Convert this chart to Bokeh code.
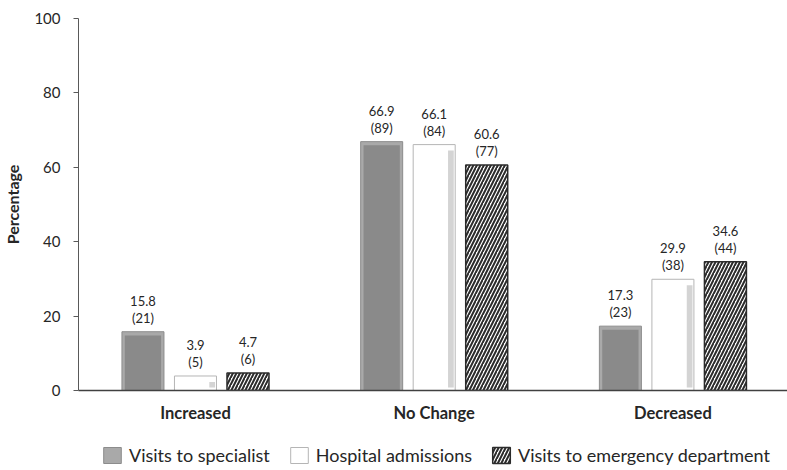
from bokeh.plotting import figure
from bokeh.layouts import column
from bokeh.models import (ColumnDataSource, FixedTicker, Legend, LegendItem)
from bokeh.core.properties import value
from bokeh.embed import file_html
from bokeh.resources import INLINE

# Change in healthcare use, by category
categories = ["Increased", "No Change", "Decreased"]
series_names = ["Visits to specialist", "Hospital admissions", "Visits to emergency department"]
specialist_pct = [15.8, 66.9, 17.3]
specialist_n = [21, 89, 23]
admissions_pct = [3.9, 66.1, 29.9]
admissions_n = [5, 84, 38]
emergency_pct = [4.7, 60.6, 34.6]
emergency_n = [6, 77, 44]
y_ticks = [0, 20, 40, 60, 80, 100]

FONT = "Lato"
TEXT = "#262626"
BAR_W = 0.176
OFFSET = 0.22

# series styles, shared by the bars and the legend swatches
SPEC_STYLE = dict(fill_color="#a9a9a9", line_color="#8c8c8c", line_width=1)
ADM_STYLE = dict(fill_color="white", line_color="#b5b5b5", line_width=1)
ER_STYLE = dict(fill_color="white", line_color="#2b2b2b", line_width=1.5,
                hatch_pattern="/", hatch_color="#2b2b2b", hatch_scale=7, hatch_weight=2)

centers = [i + 0.5 for i in range(len(categories))]

p = figure(width=787, height=440, x_range=(0.01, 2.98), y_range=(0, 100),
           output_backend="svg", toolbar_location=None,
           min_border_left=77, min_border_right=0, min_border_top=18,
           min_border_bottom=50)
p.outline_line_color = None
p.grid.grid_line_color = None
p.background_fill_color = "white"
p.border_fill_color = "white"


def bar_source(offset, pct, n):
    xs = [c + offset for c in centers]
    return ColumnDataSource(dict(
        x=xs, left=[x - BAR_W / 2 for x in xs], right=[x + BAR_W / 2 for x in xs],
        top=pct, bottom=[0] * len(pct),
        lab=[f"{v:.1f}" for v in pct], cnt=[f"({k})" for k in n],
        # inset face for the bevelled look
        il=[x - BAR_W / 2 + 0.012 for x in xs], ir=[x + BAR_W / 2 - 0.012 for x in xs],
        it=[v - 1.0 for v in pct],
        sl=[x + BAR_W / 2 - 0.03 for x in xs], sr=[x + BAR_W / 2 - 0.006 for x in xs],
        st=[v - 1.6 for v in pct], sb=[0.8] * len(pct),
    ))


src_spec = bar_source(-OFFSET, specialist_pct, specialist_n)
src_adm = bar_source(0.0, admissions_pct, admissions_n)
src_er = bar_source(OFFSET, emergency_pct, emergency_n)

# Visits to specialist: grey bevelled bars
p.quad(left="left", right="right", top="top", bottom="bottom", source=src_spec, **SPEC_STYLE)
p.quad(left="il", right="ir", top="it", bottom="bottom", source=src_spec,
       fill_color="#8a8a8a", line_color=None)

# Hospital admissions: white bevelled bars
p.quad(left="left", right="right", top="top", bottom="bottom", source=src_adm, **ADM_STYLE)
p.quad(left="sl", right="sr", top="st", bottom="sb", source=src_adm,
       fill_color="#d4d4d4", line_color=None)

# Visits to emergency department: hatched bars
p.quad(left="left", right="right", top="top", bottom="bottom", source=src_er, **ER_STYLE)

# value and count labels above each bar
for src in (src_spec, src_adm, src_er):
    p.text(x="x", y="top", text="cnt", source=src, text_align="center",
           text_baseline="bottom", y_offset=-6, text_font=value(FONT),
           text_font_size="13px", text_color=TEXT)
    p.text(x="x", y="top", text="lab", source=src, text_align="center",
           text_baseline="bottom", y_offset=-26, text_font=value(FONT),
           text_font_size="13px", text_color=TEXT)

# axes
p.yaxis.ticker = FixedTicker(ticks=y_ticks)
p.yaxis.axis_label = "Percentage"
p.yaxis.axis_label_text_font = FONT
p.yaxis.axis_label_text_font_style = "bold"
p.yaxis.axis_label_text_font_size = "16px"
p.yaxis.axis_label_text_color = TEXT
p.yaxis.axis_label_standoff = 9
p.yaxis.major_label_text_font = FONT
p.yaxis.major_label_text_font_size = "15px"
p.yaxis.major_label_text_color = TEXT
p.yaxis.major_label_standoff = 13
p.yaxis.axis_line_color = "#595959"
p.yaxis.major_tick_line_color = "#595959"
p.yaxis.major_tick_out = 5
p.yaxis.major_tick_in = 0
p.yaxis.minor_tick_line_color = None

p.xaxis.ticker = FixedTicker(ticks=centers)
p.xaxis.major_label_overrides = {c: name for c, name in zip(centers, categories)}
p.xaxis.major_label_text_font = FONT
p.xaxis.major_label_text_font_style = "bold"
p.xaxis.major_label_text_font_size = "16.5px"
p.xaxis.major_label_text_color = TEXT
p.xaxis.major_label_standoff = 6
p.xaxis.axis_line_color = "#404040"
p.xaxis.axis_line_width = 1.5
p.xaxis.major_tick_line_color = None
p.xaxis.minor_tick_line_color = None

# legend strip under the chart (its frame lines up with the chart frame)
lg = figure(width=787, height=30, output_backend="svg", toolbar_location=None,
            min_border=0, x_range=(0, 1), y_range=(0, 1))
lg.axis.visible = False
lg.grid.visible = False
lg.outline_line_color = None
nan = float("nan")


def swatch(style):
    src = ColumnDataSource(dict(left=[nan], right=[nan], top=[nan], bottom=[nan]))
    return lg.quad(source=src, left="left", right="right", top="top", bottom="bottom", **style)


sw_spec = swatch(SPEC_STYLE)
sw_adm = swatch(ADM_STYLE)
sw_er = swatch(ER_STYLE)
legend = Legend(items=[LegendItem(label=series_names[0], renderers=[sw_spec]),
                       LegendItem(label=series_names[1], renderers=[sw_adm]),
                       LegendItem(label=series_names[2], renderers=[sw_er])],
                orientation="horizontal", location=(23, 4),
                label_text_font=FONT, label_text_font_size="18px",
                label_text_color=TEXT, glyph_width=22, glyph_height=20,
                spacing=18, label_standoff=6, padding=0, margin=0,
                border_line_color=None, background_fill_alpha=0)
lg.add_layout(legend, "center")

layout = column(p, lg, spacing=0)
open("out.html", "w").write(file_html(layout, INLINE))
